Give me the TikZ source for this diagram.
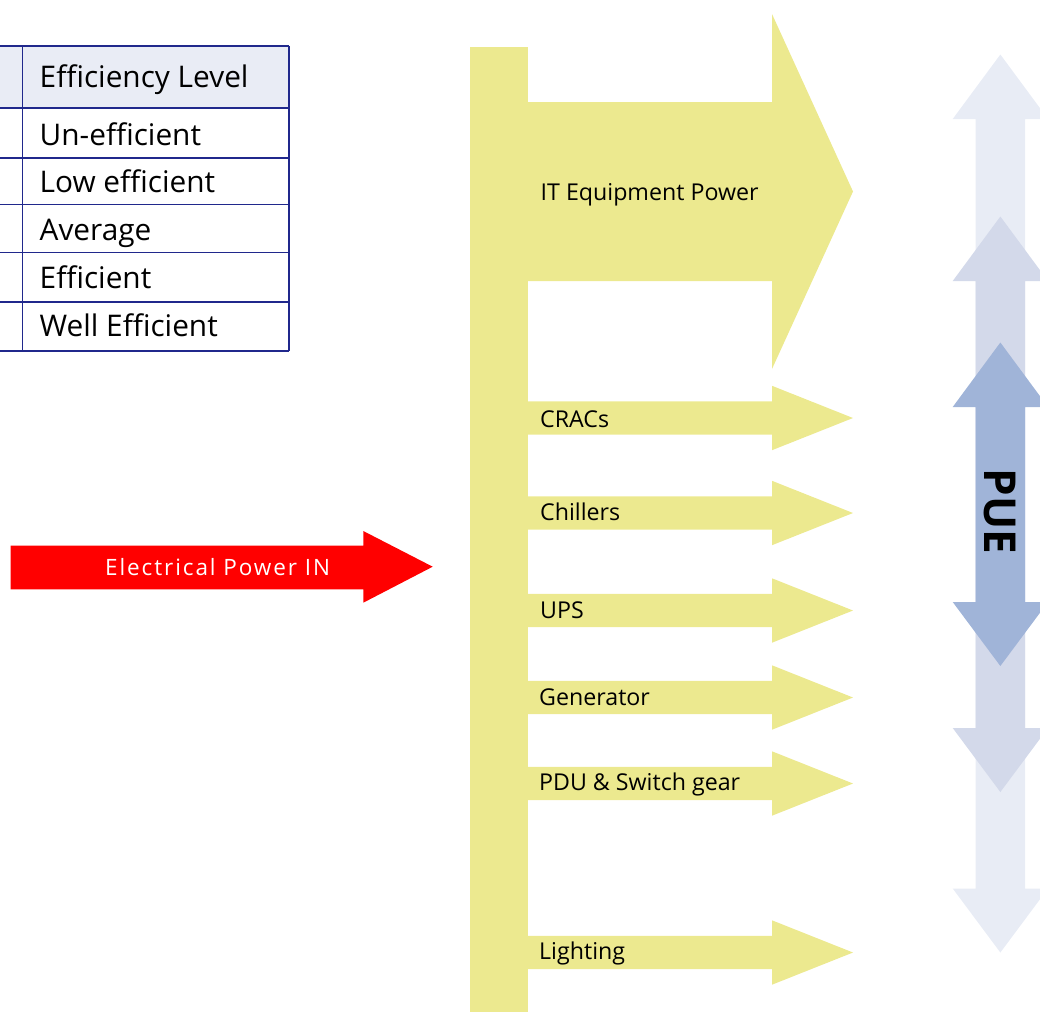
\documentclass[tikz,border=0pt]{standalone}
\usepackage{fontspec}
\setmainfont{Open Sans}
\definecolor{barY}{RGB}{236,233,143}
\definecolor{tabLine}{RGB}{32,40,140}
\definecolor{tabHead}{RGB}{233,236,245}
\definecolor{pueA}{RGB}{232,236,245}
\definecolor{pueB}{RGB}{211,217,234}
\definecolor{pueC}{RGB}{160,180,216}
\tikzset{
  tabtxt/.style={anchor=base west,inner sep=0pt,font=\fontsize{29.8}{32}\selectfont},
  lbl/.style={anchor=base west,inner sep=0pt,font=\fontsize{23.2}{26}\selectfont},
  tline/.style={draw=tabLine,line width=1.3pt},
}
% small branch arrow: #1 = centre y
\newcommand{\branch}[1]{%
  \fill[barY] (520,#1-16.7) -- (772,#1-16.7) -- (772,#1-32.2) -- (853,#1)
    -- (772,#1+32.2) -- (772,#1+16.7) -- (520,#1+16.7) -- cycle;}
% double arrow: #1 colour, #2 top tip, #3 bottom tip
\newcommand{\puearrow}[3]{%
  \fill[#1] (1000.35,#2) -- (1048,#2+64.5) -- (1025,#2+64.5) -- (1025,#3-64)
    -- (1048,#3-64) -- (1000.35,#3) -- (952.7,#3-64) -- (975.7,#3-64)
    -- (975.7,#2+64.5) -- (952.7,#2+64.5) -- cycle;}
\begin{document}
\begin{tikzpicture}[x=1pt,y=-1pt]
\useasboundingbox (0,0) rectangle (1040,1012);
\clip (0,0) rectangle (1040,1012);
% ---------- table ----------
\fill[tabHead] (0,46) rectangle (289,108);
\foreach \yy in {46,108,158,204.5,252.5,302,351}
  \draw[tline] (0,\yy) -- (289,\yy);
\draw[tline] (22.5,46) -- (22.5,351);
\draw[tline] (289,46) -- (289,351);
\node[tabtxt] (th) at (39.5,87) {Efficiency Level};
\node[tabtxt] (t1) at (39.5,145) {Un-efficient};
\node[tabtxt] (t2) at (39.5,192.5) {Low efficient};
\node[tabtxt] (t3) at (39.5,240) {Average};
\node[tabtxt] (t4) at (39.5,288) {Efficient};
\node[tabtxt] (t5) at (39.5,336) {Well Efficient};
% ---------- red input arrow ----------
\fill[red] (10.7,545.7) -- (363.3,545.7) -- (363.3,531) -- (432.7,566.7)
  -- (363.3,602.7) -- (363.3,589.3) -- (10.7,589.3) -- cycle;
\node[anchor=base west,inner sep=0pt,text=white,
  font=\fontsize{22.5}{25}\selectfont\addfontfeature{LetterSpace=8.5}]
  (pin) at (105,575) {Electrical Power IN};
% ---------- yellow bus ----------
\fill[barY] (470,47) rectangle (528,1012);
\fill[barY] (520,102) -- (772,102) -- (772,14) -- (853,191.5) -- (772,369)
  -- (772,281) -- (520,281) -- cycle;
\branch{418}
\branch{513}
\branch{610.5}
\branch{697.5}
\branch{783.5}
\branch{952.5}
\node[lbl] (it) at (540.5,200) {IT Equipment Power};
\node[lbl] (cr) at (540,427.7) {CRACs};
\node[lbl] (ch) at (540,520) {Chillers};
\node[lbl] (up) at (540,618.3) {UPS};
\node[lbl] (ge) at (539,705) {Generator};
\node[lbl] (pd) at (539,790.7) {PDU \& Switch gear};
\node[lbl] (li) at (539,959) {Lighting};
% ---------- PUE arrows ----------
\puearrow{pueA}{54.5}{952.5}
\puearrow{pueB}{216.5}{792}
\puearrow{pueC}{342.5}{666}
\node[rotate=-90,inner sep=0pt,font=\fontsize{44}{48}\selectfont\bfseries]
  (pue) at (999.7,511.5) {PUE};
\end{tikzpicture}
\end{document}
